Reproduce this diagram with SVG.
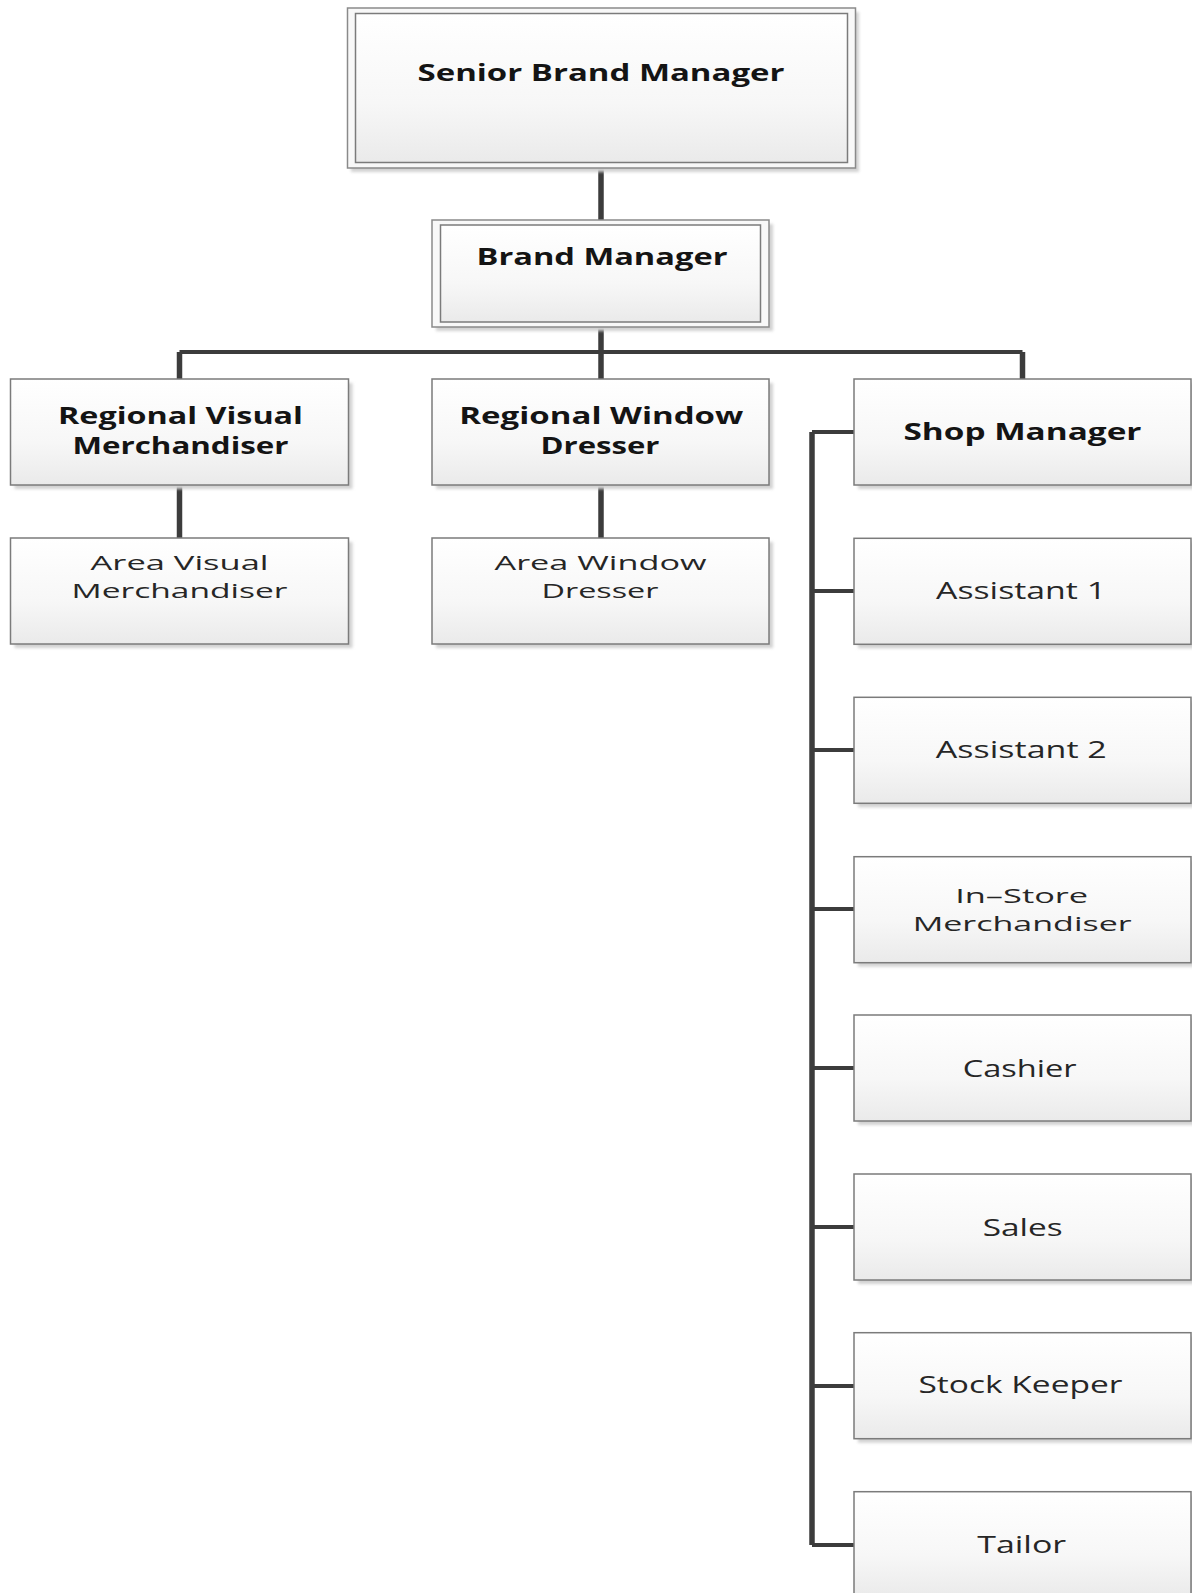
<svg xmlns="http://www.w3.org/2000/svg" width="1192" height="1593" viewBox="0 0 1192 1593">
  <defs>
    <linearGradient id="boxFill" x1="0" y1="0" x2="0" y2="1">
      <stop offset="0" stop-color="#ffffff"/>
      <stop offset="0.6" stop-color="#f7f7f7"/>
      <stop offset="1" stop-color="#eaeaea"/>
    </linearGradient>
    <filter id="soft" x="-5%" y="-5%" width="115%" height="120%">
      <feGaussianBlur stdDeviation="1.6"/>
    </filter>
  </defs>
  <style>
    .shadow { fill: #d2d2d2; filter: url(#soft); }
    .box { fill: url(#boxFill); stroke: #7b7b7b; stroke-width: 1.5; }
    .outer { fill: #f8f8f8; stroke: #8a8a8a; stroke-width: 1.5; }
    .bold { font-family: "Open Sans", "Liberation Sans", sans-serif; font-weight: 700; font-size: 23px; fill: #141414; text-anchor: middle; }
    .reg { font-family: "Open Sans", "Liberation Sans", sans-serif; font-weight: 400; font-size: 23px; fill: #262626; text-anchor: middle; }
    .tight { font-size: 20.5px; }
    .wire { fill: none; stroke: #3c3c3c; stroke-linejoin: round; stroke-linecap: butt; }
    .v { stroke-width: 5.5; }
    .h { stroke-width: 4; }
  </style>
  <rect width="1192" height="1593" fill="#ffffff"/>

  <!-- reporting lines -->
  <g id="connectors" class="wire">
    <path class="v" d="M601 168 V220"/>
    <path class="v" d="M601 327 V379"/>
    <path class="h" d="M179.5 352 H1022.5"/>
    <path class="v" d="M179.5 352 V379"/>
    <path class="v" d="M1022.5 352 V379"/>
    <path class="v" d="M179.5 485 V538"/>
    <path class="v" d="M601 485 V538"/>
    <path class="v" d="M812 432 V1545"/>
    <path class="h" d="M812 432 H854"/>
    <path class="h" d="M812 591 H854"/>
    <path class="h" d="M812 750 H854"/>
    <path class="h" d="M812 909 H854"/>
    <path class="h" d="M812 1068 H854"/>
    <path class="h" d="M812 1227 H854"/>
    <path class="h" d="M812 1386 H854"/>
    <path class="h" d="M812 1545 H854"/>
  </g>

  <!-- top level -->
  <g id="senior-brand-manager">
    <rect class="shadow" x="351" y="12" width="508" height="160"/>
    <rect class="outer" x="347.5" y="8" width="508" height="160"/>
    <rect class="box" x="355.5" y="13.5" width="492" height="149"/>
    <text class="bold" x="601" y="81" textLength="367" lengthAdjust="spacingAndGlyphs">Senior Brand Manager</text>
  </g>

  <g id="brand-manager">
    <rect class="shadow" x="436" y="224" width="337" height="107"/>
    <rect class="outer" x="432" y="220" width="337" height="107"/>
    <rect class="box" x="440.5" y="225" width="320" height="97"/>
    <text class="bold" x="602" y="265" textLength="251" lengthAdjust="spacingAndGlyphs">Brand Manager</text>
  </g>

  <!-- regional level -->
  <g id="regional-visual-merchandiser">
    <rect class="shadow" x="14.5" y="383" width="338" height="106"/>
    <rect class="box" x="10.5" y="379" width="338" height="106"/>
    <text class="bold" x="180.5" y="424" textLength="245" lengthAdjust="spacingAndGlyphs">Regional Visual</text>
    <text class="bold" x="180.5" y="454" textLength="216" lengthAdjust="spacingAndGlyphs">Merchandiser</text>
  </g>

  <g id="regional-window-dresser">
    <rect class="shadow" x="436" y="383" width="337" height="106"/>
    <rect class="box" x="432" y="379" width="337" height="106"/>
    <text class="bold" x="601.3" y="424" textLength="284" lengthAdjust="spacingAndGlyphs">Regional Window</text>
    <text class="bold" x="600" y="454" textLength="119" lengthAdjust="spacingAndGlyphs">Dresser</text>
  </g>

  <g id="area-visual-merchandiser">
    <rect class="shadow" x="14.5" y="542" width="338" height="106"/>
    <rect class="box" x="10.5" y="538" width="338" height="106"/>
    <text class="reg tight" x="179.5" y="570" textLength="178" lengthAdjust="spacingAndGlyphs">Area Visual</text>
    <text class="reg tight" x="179.5" y="598" textLength="216" lengthAdjust="spacingAndGlyphs">Merchandiser</text>
  </g>

  <g id="area-window-dresser">
    <rect class="shadow" x="436" y="542" width="337" height="106"/>
    <rect class="box" x="432" y="538" width="337" height="106"/>
    <text class="reg tight" x="600.5" y="570" textLength="212" lengthAdjust="spacingAndGlyphs">Area Window</text>
    <text class="reg tight" x="600" y="598" textLength="117" lengthAdjust="spacingAndGlyphs">Dresser</text>
  </g>

  <!-- shop column -->
  <g id="shop-manager">
    <rect class="shadow" x="858" y="383" width="337" height="106"/>
    <rect class="box" x="854" y="379" width="337" height="106"/>
    <text class="bold" x="1022.5" y="440" textLength="238" lengthAdjust="spacingAndGlyphs">Shop Manager</text>
  </g>

  <g id="assistant-1">
    <rect class="shadow" x="858" y="542.3" width="337" height="106"/>
    <rect class="box" x="854" y="538.3" width="337" height="106"/>
    <text class="reg" x="1021" y="598.5" textLength="170" lengthAdjust="spacingAndGlyphs">Assistant 1</text>
  </g>

  <g id="assistant-2">
    <rect class="shadow" x="858" y="701.3" width="337" height="106"/>
    <rect class="box" x="854" y="697.3" width="337" height="106"/>
    <text class="reg" x="1021.3" y="758" textLength="171" lengthAdjust="spacingAndGlyphs">Assistant 2</text>
  </g>

  <g id="in-store-merchandiser">
    <rect class="shadow" x="858" y="860.7" width="337" height="106"/>
    <rect class="box" x="854" y="856.7" width="337" height="106"/>
    <text class="reg tight" x="1021.7" y="902.7" textLength="133" lengthAdjust="spacingAndGlyphs">In–Store</text>
    <text class="reg tight" x="1022.2" y="930.7" textLength="219" lengthAdjust="spacingAndGlyphs">Merchandiser</text>
  </g>

  <g id="cashier">
    <rect class="shadow" x="858" y="1019" width="337" height="106"/>
    <rect class="box" x="854" y="1015" width="337" height="106"/>
    <text class="reg" x="1019.7" y="1076.5" textLength="114" lengthAdjust="spacingAndGlyphs">Cashier</text>
  </g>

  <g id="sales">
    <rect class="shadow" x="858" y="1178" width="337" height="106"/>
    <rect class="box" x="854" y="1174" width="337" height="106"/>
    <text class="reg" x="1022.7" y="1236" textLength="80" lengthAdjust="spacingAndGlyphs">Sales</text>
  </g>

  <g id="stock-keeper">
    <rect class="shadow" x="858" y="1336.7" width="337" height="106"/>
    <rect class="box" x="854" y="1332.7" width="337" height="106"/>
    <text class="reg" x="1020.5" y="1393.3" textLength="204" lengthAdjust="spacingAndGlyphs">Stock Keeper</text>
  </g>

  <g id="tailor">
    <rect class="shadow" x="858" y="1495.7" width="337" height="106"/>
    <rect class="box" x="854" y="1491.7" width="337" height="106"/>
    <text class="reg" x="1021.7" y="1553.3" textLength="89" lengthAdjust="spacingAndGlyphs">Tailor</text>
  </g>
</svg>
